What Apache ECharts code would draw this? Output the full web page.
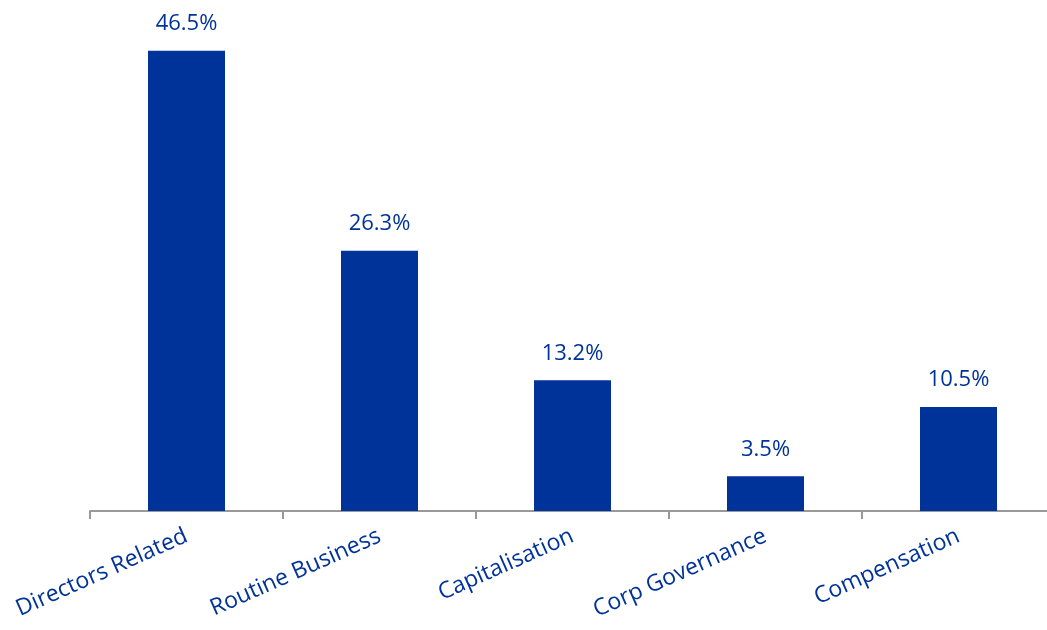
<!DOCTYPE html>
<html>
<head>
<meta charset="utf-8">
<script src="https://cdn.jsdelivr.net/npm/echarts@6/dist/echarts.min.js"></script>
<style>html,body{margin:0;padding:0;background:#fff;overflow:hidden;width:1047px;height:630px;}#chart{width:1055px;height:630px;}</style>
</head>
<body>
<div id="chart"></div>
<script>
const categories = ["Directors Related", "Routine Business", "Capitalisation", "Corp Governance", "Compensation"];
const values = [46.5, 26.3, 13.2, 3.5, 10.5];

const chart = echarts.init(document.getElementById('chart'), null, {renderer: 'canvas'});
chart.setOption({
  animation: false,
  backgroundColor: '#ffffff',
  grid: {left: 90, top: 16, right: 0, bottom: 119, containLabel: false},
  xAxis: {
    type: 'category',
    data: categories,
    axisLine: {lineStyle: {color: '#999999', width: 2}},
    axisTick: {show: true, length: 8, lineStyle: {color: '#999999', width: 2}},
    axisLabel: {
      rotate: 24, interval: 0, margin: 24,
      color: '#003399', fontFamily: 'Open Sans', fontSize: 23
    }
  },
  yAxis: {
    type: 'value', min: 0, max: 50, show: false,
    splitLine: {show: false}
  },
  series: [{
    type: 'bar',
    data: values,
    barWidth: 77,
    itemStyle: {color: '#003399'},
    label: {
      show: true, position: 'top', distance: 16,
      formatter: p => p.value.toFixed(1) + '%',
      color: '#003399', fontFamily: 'Open Sans', fontSize: 22
    }
  }]
});
</script>
</body>
</html>
